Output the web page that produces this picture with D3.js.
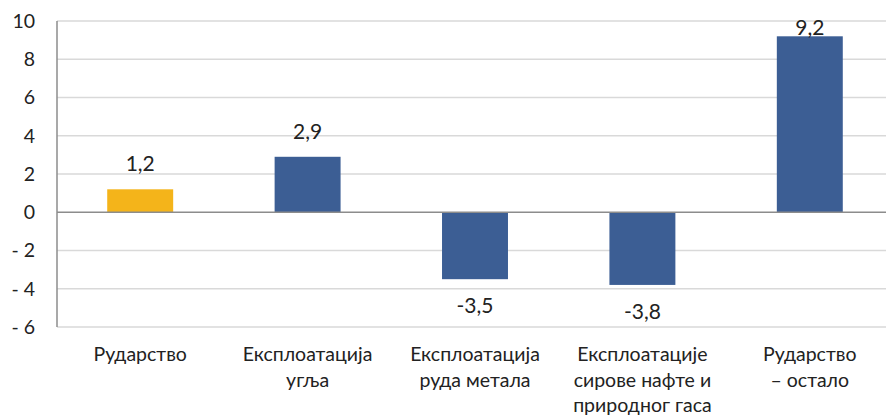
<!DOCTYPE html>
<html>
<head>
<meta charset="utf-8">
<script src="https://cdn.jsdelivr.net/npm/d3@7"></script>
<style>
  body { margin: 0; background: #fff; overflow: hidden; }
  text { font-family: Lato, "Open Sans", sans-serif; fill: #222; }
</style>
</head>
<body>
<div id="chart"></div>
<script>
const categories = [
    ["Рударство"],
    ["Експлоатација", "угља"],
    ["Експлоатација", "руда метала"],
    ["Експлоатације", "сирове нафте и", "природног гаса"],
    ["Рударство", "– остало"]
];
const values = [1.2, 2.9, -3.5, -3.8, 9.2];
const barColors = ["#F4B41A", "#3C5E94", "#3C5E94", "#3C5E94", "#3C5E94"];
const yTicks = [-6, -4, -2, 0, 2, 4, 6, 8, 10];

const width = 886, height = 416;
const margin = { top: 21, right: -7, bottom: 89, left: 57 };

const svg = d3.select("#chart").append("svg")
    .attr("width", width)
    .attr("height", height);

const x = d3.scaleBand()
    .domain(d3.range(categories.length))
    .range([margin.left, width - margin.right])
    .paddingInner(0.606)
    .paddingOuter(0.3);

const y = d3.scaleLinear()
    .domain([-6, 10])
    .range([height - margin.bottom, margin.top]);

// gridlines
svg.append("g")
    .selectAll("line")
    .data(yTicks.filter(d => d !== 0))
    .join("line")
    .attr("x1", margin.left)
    .attr("x2", width - margin.right)
    .attr("y1", d => y(d))
    .attr("y2", d => y(d))
    .attr("stroke", "#d9d9d9")
    .attr("stroke-width", 1.5);

// y axis labels
const fmt = d => d < 0 ? "- " + Math.abs(d) : String(d);
svg.append("g")
    .attr("transform", `translate(${margin.left},0)`)
    .call(d3.axisLeft(y).tickValues(yTicks).tickFormat(fmt).tickSize(0).tickPadding(22))
    .call(g => g.select(".domain").remove())
    .call(g => g.selectAll("text").style("font-size", "19.5px").attr("fill", "#222"));

// bars
svg.append("g")
    .selectAll("rect")
    .data(values)
    .join("rect")
    .attr("x", (d, i) => x(i))
    .attr("width", x.bandwidth())
    .attr("y", d => y(Math.max(0, d)))
    .attr("height", d => Math.abs(y(d) - y(0)))
    .attr("fill", (d, i) => barColors[i]);

// zero line and vertical axis
svg.append("line")
    .attr("x1", margin.left).attr("x2", width - margin.right)
    .attr("y1", y(0)).attr("y2", y(0))
    .attr("stroke", "#8c8c8c").attr("stroke-width", 1.5);
svg.append("line")
    .attr("x1", margin.left).attr("x2", margin.left)
    .attr("y1", y(10)).attr("y2", y(-6))
    .attr("stroke", "#8c8c8c").attr("stroke-width", 1.5);

// value labels (kept inside plot area near the top)
svg.append("g")
    .selectAll("text")
    .data(values)
    .join("text")
    .attr("x", (d, i) => x(i) + x.bandwidth() / 2)
    .attr("y", d => d >= 0 ? Math.max(y(d) - 18, 35) : y(d) + 34)
    .attr("text-anchor", "middle")
    .style("font-size", "21px")
    .text(d => String(d).replace(".", ","));

// category labels
const cat = svg.append("g")
    .selectAll("text")
    .data(categories)
    .join("text")
    .attr("x", (d, i) => x(i) + x.bandwidth() / 2)
    .attr("y", 361)
    .attr("text-anchor", "middle")
    .style("font-size", "19.5px");
cat.selectAll("tspan")
    .data(d => d)
    .join("tspan")
    .attr("x", function () { return this.parentNode.getAttribute("x"); })
    .attr("dy", (d, j) => j === 0 ? 0 : 25.5)
    .text(d => d);
</script>
</body>
</html>
